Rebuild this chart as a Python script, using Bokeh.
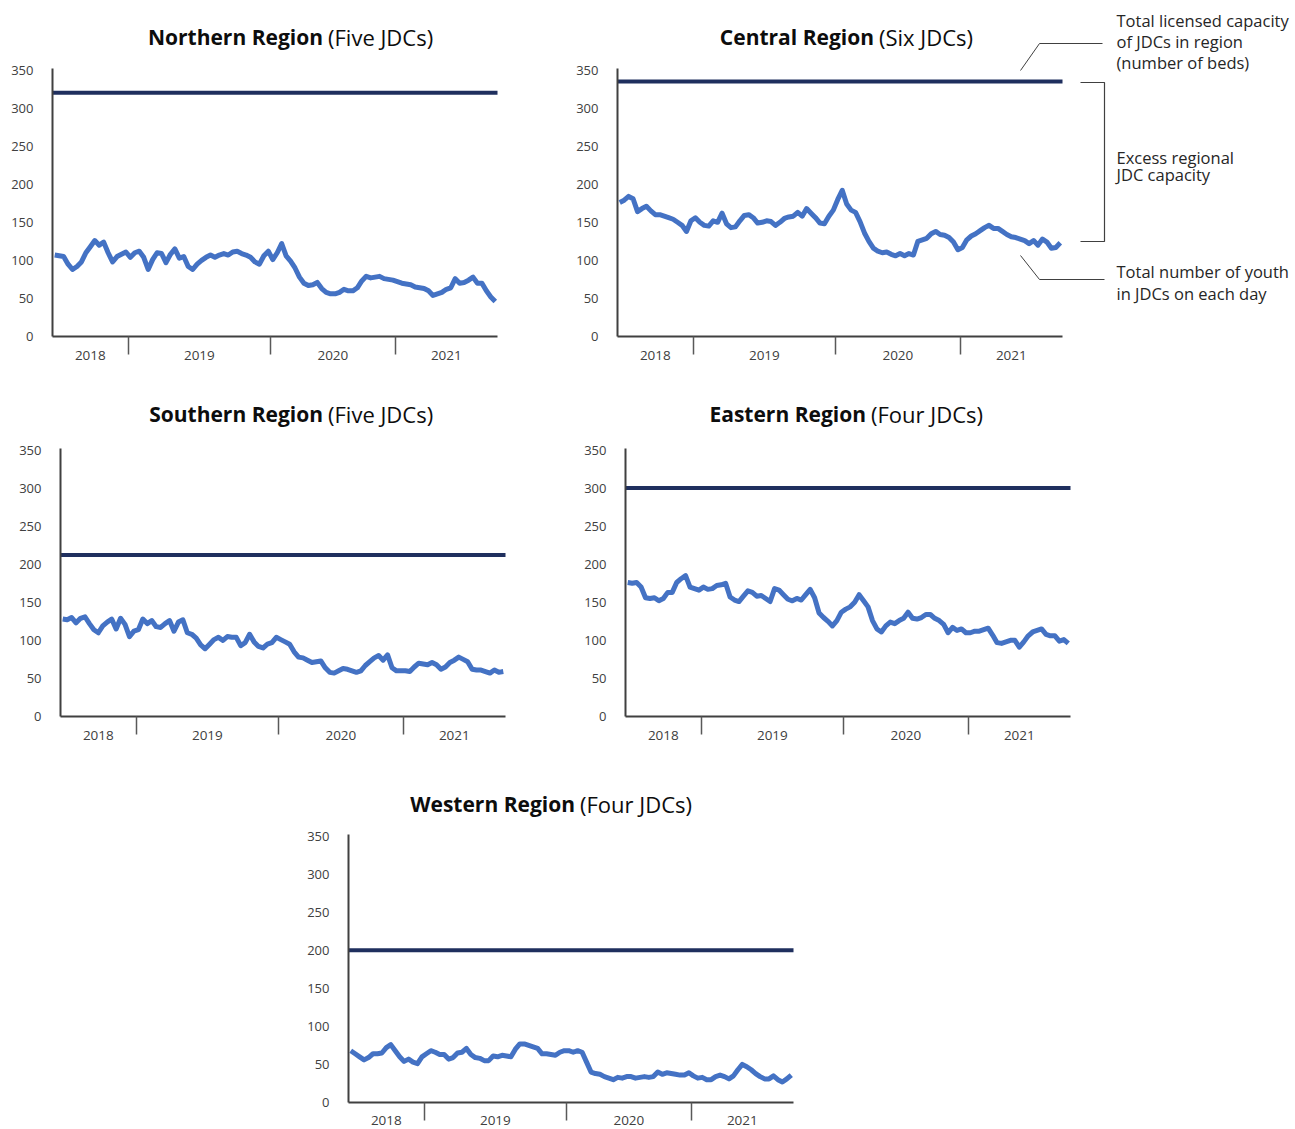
import numpy as np
from bokeh.plotting import figure
from bokeh.layouts import column, row
from bokeh.models import Range1d, FixedTicker
from bokeh.core.properties import value
from bokeh.embed import file_html
from bokeh.resources import INLINE

# ---------------- data ----------------
YEARS = ["2018", "2019", "2020", "2021"]
YEAR_COUNTS = [17, 32, 28, 23]          # samples per year segment
Y_TICKS = [0, 50, 100, 150, 200, 250, 300, 350]

NORTHERN = [107, 106, 105, 95, 88, 92, 98, 110, 118, 126, 120, 124, 110, 98, 105, 108, 111,
            104, 110, 112, 104, 88, 101, 110, 109, 97, 108, 115, 103, 105, 92, 88, 95, 100, 104, 107,
            104, 107, 109, 107, 111, 112, 109, 107, 104, 98, 95, 106, 112,
            101, 110, 122, 106, 99, 90, 78, 70, 67, 68, 71, 63, 58, 56, 56, 58, 62, 60, 60, 64,
            73, 79, 77, 78, 79, 76, 75, 74,
            72, 70, 69, 68, 65, 64, 63, 60, 54, 56, 58, 62, 64, 76, 70, 71, 74, 78, 70, 70, 60, 52, 46]
CENTRAL = [176, 179, 184, 181, 164, 168, 171, 165, 160, 160, 158, 156, 154, 150, 146, 138, 152,
           156, 150, 146, 145, 152, 150, 162, 148, 143, 144, 152, 159, 160, 156, 149, 150, 152, 151,
           146, 150, 155, 157, 158, 163, 158, 168, 162, 156, 149, 148, 158, 166,
           180, 192, 174, 166, 163, 151, 136, 125, 116, 112, 110, 111, 108, 106, 109, 106, 109, 107,
           125, 127, 129, 135, 138, 134, 133, 130, 124, 114,
           117, 127, 132, 135, 139, 143, 146, 142, 142, 138, 134, 131, 130, 128, 126, 122, 126, 120,
           128, 124, 116, 117, 123]
SOUTHERN = [128, 127, 130, 123, 129, 131, 122, 114, 110, 119, 124, 128, 115, 129, 121, 105, 112,
            114, 128, 122, 126, 118, 117, 122, 126, 112, 124, 127, 110, 108, 103, 94, 89, 95, 101,
            104, 100, 105, 104, 104, 93, 97, 108, 98, 92, 90, 95, 97, 104,
            101, 98, 95, 85, 78, 77, 74, 71, 72, 73, 64, 58, 57, 60, 63, 62, 60, 58, 60, 67, 72, 77,
            80, 74, 81, 64, 60, 60,
            60, 59, 65, 70, 69, 68, 71, 68, 62, 65, 71, 74, 78, 75, 72, 62, 61, 61, 59, 57, 61, 58, 59]
EASTERN = [176, 175, 176, 170, 156, 155, 156, 152, 155, 163, 163, 176, 181, 185, 170, 168, 166,
           170, 167, 168, 172, 173, 175, 157, 153, 151, 158, 165, 163, 158, 159, 155, 151, 168, 166,
           160, 154, 152, 155, 153, 160, 167, 156, 136, 130, 125, 119, 126, 137,
           141, 144, 150, 160, 152, 144, 126, 115, 111, 119, 124, 122, 126, 129, 137, 129, 128, 130,
           134, 134, 129, 126, 121, 110, 117, 113, 115, 110,
           110, 112, 112, 114, 116, 107, 97, 96, 98, 100, 100, 91, 98, 106, 111, 113, 115, 108, 106,
           106, 99, 101, 96]
WESTERN = [68, 64, 60, 56, 59, 64, 64, 65, 72, 76, 68, 60, 54, 57, 53, 51, 60,
           64, 68, 66, 63, 63, 57, 59, 65, 66, 71, 63, 59, 58, 55, 55, 61, 60, 62, 61, 60, 70, 77,
           77, 75, 73, 71, 64, 64, 63, 62, 66, 68,
           68, 66, 68, 66, 53, 40, 38, 37, 34, 32, 30, 33, 32, 34, 34, 32, 33, 34, 33, 34, 40, 37,
           39, 38, 37, 36, 36, 39,
           35, 32, 33, 30, 30, 34, 36, 34, 31, 35, 43, 50, 47, 43, 38, 34, 31, 31, 35, 30, 27, 31, 36]

CAPACITY = {"Northern": 320, "Central": 335, "Southern": 212, "Eastern": 300, "Western": 200}
JDC_COUNT = {"Northern": "Five", "Central": "Six", "Southern": "Five", "Eastern": "Four", "Western": "Four"}

for s in (NORTHERN, CENTRAL, SOUTHERN, EASTERN, WESTERN):
    assert len(s) == sum(YEAR_COUNTS)

# ---------------- styling ----------------
FONT = "Open Sans"
K = 268.0 / 352.0      # px per y unit
PXX = 4.45             # px per x unit (100 samples -> 445 px)
LINE_BLUE = "#4472C4"
CAP_NAVY = "#1F2F5E"
AXIS_COL = "#404040"


def make_panel(region, values, width, height, left, bottom, junction, title_y, x_standoff):
    n = len(values)
    x = np.arange(n) + 0.5
    frame_h = height - bottom
    p = figure(width=width, height=height, output_backend="svg", toolbar_location=None,
               x_range=Range1d(0, (width - left) / PXX), y_range=Range1d(0, frame_h / K),
               min_border_left=left, min_border_right=0, min_border_top=0,
               min_border_bottom=bottom, title=None)
    p.xgrid.visible = False
    p.ygrid.visible = False
    p.outline_line_color = None

    # y axis
    ya = p.yaxis[0]
    ya.ticker = FixedTicker(ticks=Y_TICKS)
    ya.bounds = (0, 352)
    ya.axis_line_width = 2
    ya.axis_line_color = AXIS_COL
    ya.major_tick_line_color = None
    ya.minor_tick_line_color = None
    ya.major_tick_out = 0
    ya.major_tick_in = 0
    ya.minor_tick_out = 0
    ya.major_label_standoff = 19
    ya.major_label_text_font = FONT
    ya.major_label_text_font_size = "13px"
    ya.major_label_text_color = "#404040"

    # x axis: year labels at segment centres, separators at boundaries
    cum = np.cumsum([0] + YEAR_COUNTS)
    centers = [float((cum[i] + cum[i + 1]) / 2) for i in range(len(YEARS))]
    bounds = [float(b) for b in cum[1:-1]]
    xa = p.xaxis[0]
    xa.ticker = FixedTicker(ticks=centers, minor_ticks=bounds)
    xa.bounds = (0, float(n))
    xa.major_label_overrides = {c: y for c, y in zip(centers, YEARS)}
    xa.axis_line_width = 2
    xa.axis_line_color = AXIS_COL
    xa.major_tick_line_color = None
    xa.major_tick_out = 0
    xa.major_tick_in = 0
    xa.minor_tick_in = 0
    xa.minor_tick_out = 18
    xa.minor_tick_line_color = "#595959"
    xa.minor_tick_line_width = 1.5
    xa.major_label_standoff = x_standoff
    xa.major_label_text_font = FONT
    xa.major_label_text_font_size = "13.5px"
    xa.major_label_text_color = "#404040"

    # capacity and daily population
    cap = CAPACITY[region]
    p.segment(x0=[0], y0=[cap], x1=[float(n)], y1=[cap], line_color=CAP_NAVY, line_width=4)
    p.line(x, values, line_color=LINE_BLUE, line_width=5, line_join="round")

    # title (bold region + regular count)
    jx = junction / PXX
    p.text(x=[jx - 2.5 / PXX], y=[title_y], text=[f"{region} Region"], text_align="right",
           text_baseline="middle", text_font=value(FONT), text_font_style="bold",
           text_font_size="21px", text_color="#0d0d0d")
    p.text(x=[jx + 2.5 / PXX], y=[title_y], text=[f"({JDC_COUNT[region]} JDCs)"], text_align="left",
           text_baseline="middle", text_font=value(FONT), text_font_size="22px", text_color="#0d0d0d")
    return p


def ypx(page_y, axis_y):
    return (axis_y - page_y) / K


# Row 1 (frame 0..336)
p_n = make_panel("Northern", NORTHERN, 560, 378, 52, 42, 325 - 52, ypx(36, 336), -4)
p_c = make_panel("Central", CENTRAL, 735, 378, 57, 42, 876 - 617, ypx(36, 336), -4)

# Central annotations (reference px -> data units)
def cx(px):
    return (px - 617) / PXX

def cy(py):
    return ypx(py, 336)

ann_col = "#404040"
p_c.line([cx(1020), cx(1039), cx(1102)], [cy(70), cy(43), cy(43)], line_color=ann_col, line_width=1)
p_c.line([cx(1080), cx(1104), cx(1104), cx(1080)], [cy(82), cy(82), cy(241), cy(241)],
         line_color=ann_col, line_width=1.2)
p_c.line([cx(1020), cx(1039), cx(1104)], [cy(255), cy(279), cy(279)], line_color=ann_col, line_width=1)
ann_texts = ["Total licensed capacity", "of JDCs in region", "(number of beds)",
             "Excess regional", "JDC capacity",
             "Total number of youth", "in JDCs on each day"]
ann_ys = [20, 41, 62, 157, 174, 271, 293]
p_c.text(x=[cx(1116)] * len(ann_texts), y=[cy(v) for v in ann_ys], text=ann_texts,
         text_align="left", text_baseline="middle", text_font=value(FONT),
         text_font_size="16.5px", text_color="#262626")

# Row 2 (frame 378..716)
p_s = make_panel("Southern", SOUTHERN, 560, 390, 60, 52, 325 - 60, ypx(413, 716), -4)
p_e = make_panel("Eastern", EASTERN, 735, 390, 65, 52, 868 - 625, ypx(413, 716), -4)

# Row 3 (frame 768..1102)
p_w = make_panel("Western", WESTERN, 800, 361, 348, 27, 577 - 348, ypx(803, 1102), -5)

layout = column(row(p_n, p_c), row(p_s, p_e), p_w)
open("out.html", "w").write(file_html(layout, INLINE))
